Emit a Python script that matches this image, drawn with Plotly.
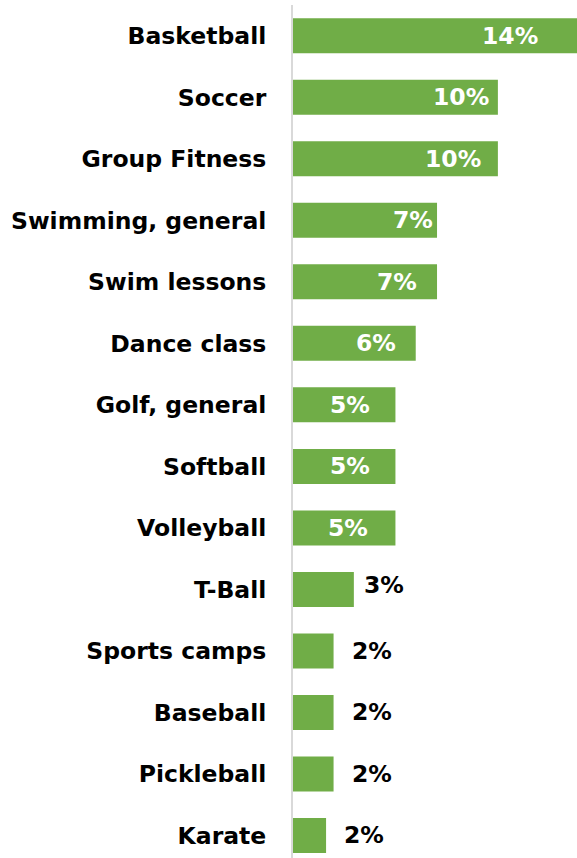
import plotly.graph_objects as go

# ---- data ----
categories = ["Basketball", "Soccer", "Group Fitness", "Swimming, general", "Swim lessons",
              "Dance class", "Golf, general", "Softball", "Volleyball", "T-Ball",
              "Sports camps", "Baseball", "Pickleball", "Karate"]
values = [14.0, 10.1, 10.1, 7.1, 7.1, 6.05, 5.05, 5.05, 5.05, 3.0, 2.0, 2.0, 2.0, 1.63]
value_labels = ["14%", "10%", "10%", "7%", "7%", "6%", "5%", "5%", "5%", "3%", "2%", "2%", "2%", "2%"]

# ---- label styling (pixel offsets from bar end) ----
label_xshift = [-67, -37, -45, -24, -40, -40, -45, -45, -47, 30, 38, 38, 38, 38]
label_yshift = [0, 0, 0, 0, 0, 0, 0, 0, 0, 4, 0, 0, 0, 0]
label_inside = [True] * 9 + [False] * 5

FONT = "DejaVu Sans"
FS = 23.5
GREEN = "#70AD47"

fig = go.Figure(
    go.Bar(
        y=categories,
        x=values,
        orientation="h",
        marker=dict(color=GREEN, line=dict(width=0)),
        width=0.569,
        hoverinfo="skip",
    )
)

for cat, v, lab, dx, dy, ins in zip(categories, values, value_labels,
                                    label_xshift, label_yshift, label_inside):
    fig.add_annotation(
        x=v, y=cat, xref="x", yref="y",
        text=lab, showarrow=False,
        xanchor="center", yanchor="middle",
        xshift=dx, yshift=dy,
        font=dict(family=FONT, size=FS, weight="bold",
                  color="white" if ins else "black"),
    )

fig.update_layout(
    width=577, height=858,
    margin=dict(l=293, r=0, t=4.5, b=0, autoexpand=False),
    paper_bgcolor="white", plot_bgcolor="white",
    showlegend=False,
    bargap=0.43,
)
fig.update_xaxes(
    range=[0, 14.0], showgrid=False, zeroline=False,
    showticklabels=False, ticks="", showline=False,
)
fig.update_yaxes(
    categoryorder="array", categoryarray=categories,
    range=[13.366, -0.5], autorange=False,
    showgrid=False, zeroline=False,
    showline=True, linecolor="#d9d9d9", linewidth=2,
    ticks="", ticklabelstandoff=20,
    tickfont=dict(family=FONT, size=FS, weight="bold", color="black"),
    automargin=False,
)

fig.write_html(
    "out.html",
    config={"responsive": False, "displayModeBar": False},
    post_script="document.body.style.margin='0';document.body.style.overflow='hidden';",
)
